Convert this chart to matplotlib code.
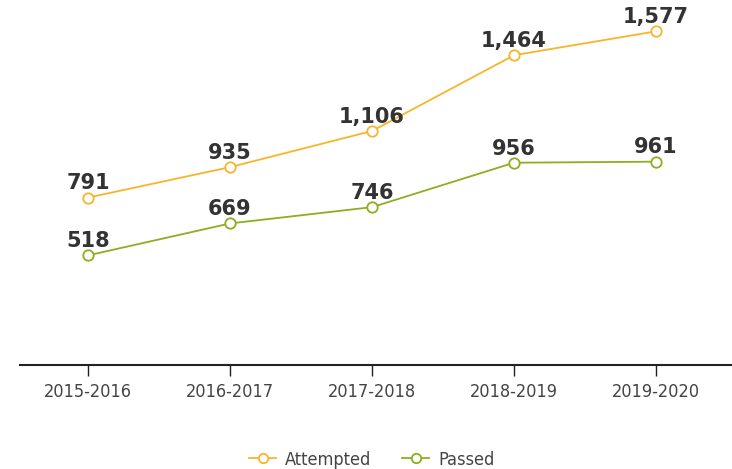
import matplotlib
matplotlib.use('Agg')
import matplotlib.pyplot as plt
from matplotlib import font_manager

years = ['2015-2016', '2016-2017', '2017-2018', '2018-2019', '2019-2020']
attempted = [791, 935, 1106, 1464, 1577]
passed = [518, 669, 746, 956, 961]

ORANGE = '#F9B52A'
GREEN = '#8DAE1E'

# look for a narrow face for the axis text, fall back to DejaVu
narrow = None
for f in font_manager.fontManager.ttflist:
    fn = f.fname.lower()
    if ('narrow' in fn or 'condensed' in fn) and 'bold' not in fn and 'italic' not in fn and 'oblique' not in fn:
        narrow = f.fname
        break
if narrow:
    tick_font = font_manager.FontProperties(fname=narrow, size=13)
else:
    tick_font = font_manager.FontProperties(family='DejaVu Sans', size=12, stretch='condensed')

fig = plt.figure(figsize=(7.32, 4.69), dpi=100)
ax = fig.add_axes([20 / 732, 104 / 469, 712 / 732, 365 / 469])

x = list(range(len(years)))
for vals, col, name in [(attempted, ORANGE, 'Attempted'), (passed, GREEN, 'Passed')]:
    ax.plot(x, vals, color=col, lw=1.3, marker='o', ms=7.5, mfc='white', mec=col,
            mew=1.3, label=name, zorder=3)
    for xi, v in zip(x, vals):
        ax.annotate(f'{v:,}', (xi, v), xytext=(0, 3), textcoords='offset points',
                    ha='center', va='bottom', fontsize=15, fontweight='bold',
                    color='#333333', family='DejaVu Sans')

ax.set_xlim(-0.479, 4.535)
ax.set_ylim(0, 1725)
for s in ['top', 'right', 'left']:
    ax.spines[s].set_visible(False)
ax.spines['bottom'].set_color('#222222')
ax.spines['bottom'].set_linewidth(1.5)
ax.set_yticks([])
ax.set_xticks(x)
ax.set_xticklabels(years, color='#444444')
for t in ax.get_xticklabels():
    t.set_fontproperties(tick_font)
ax.tick_params(axis='x', length=8, width=1, color='#222222', pad=5)

leg_font = tick_font.copy()
fig.legend(loc='lower center', bbox_to_anchor=(0.508, -0.034), ncol=2, frameon=False,
           prop=leg_font, labelcolor='#444444', handlelength=1.5, columnspacing=1.7,
           handletextpad=0.5, markerscale=0.9)

fig.savefig('out.png', dpi=100)
